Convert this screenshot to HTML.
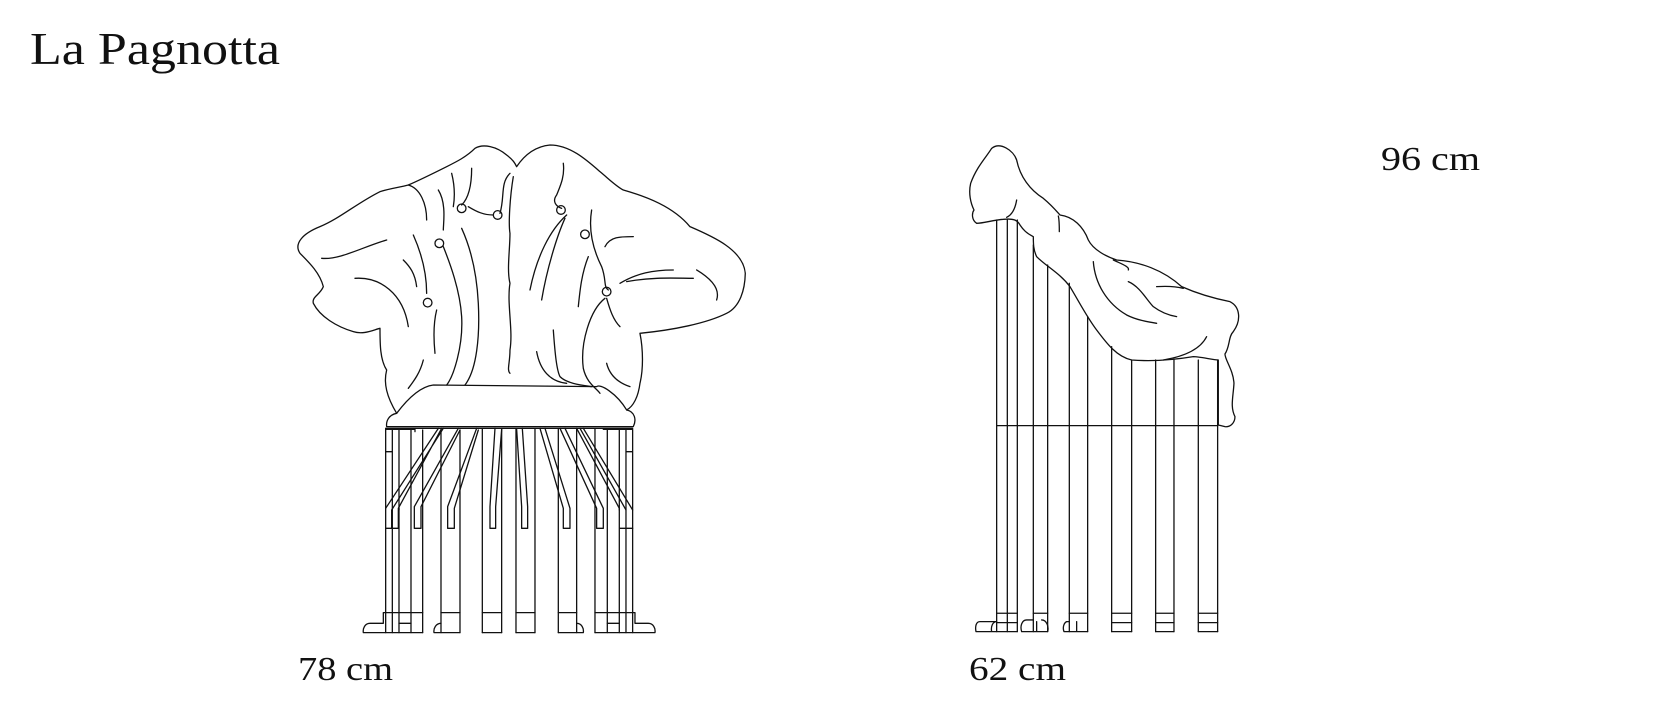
<!DOCTYPE html>
<html><head><meta charset="utf-8"><style>
html,body{margin:0;padding:0;background:#fff;width:1670px;height:711px;overflow:hidden}
svg{display:block}
text{font-family:"Liberation Serif",serif;fill:#111}
.s{fill:none;stroke:#111;stroke-width:1.3;vector-effect:non-scaling-stroke;stroke-linecap:round;stroke-linejoin:round}
</style></head><body>
<svg width="1670" height="711" viewBox="0 0 1670 711" xmlns="http://www.w3.org/2000/svg">
<text x="30" y="64" font-size="46" textLength="250" lengthAdjust="spacingAndGlyphs">La Pagnotta</text>
<text x="1381" y="170" font-size="34" textLength="99" lengthAdjust="spacingAndGlyphs">96 cm</text>
<text x="298" y="680" font-size="34" textLength="95" lengthAdjust="spacingAndGlyphs">78 cm</text>
<text x="969" y="680" font-size="34" textLength="97" lengthAdjust="spacingAndGlyphs">62 cm</text>

<!-- FRONT CHAIR upholstery -->
<g transform="translate(280,130) scale(0.3333)">
<path class="s" d="M320,890 L1060,890 C1070,870 1065,845 1040,840 C1010,790 960,760 950,770 L460,765 C420,770 380,810 350,850 C325,855 318,875 320,890 Z"/>
<path class="s" d="M350,850 C320,800 310,760 320,720 C300,690 300,640 300,595 C280,600 250,615 220,605 C170,590 120,560 100,520 C95,500 120,495 130,470 C120,430 90,400 60,370 C40,340 70,310 120,290 C180,265 230,220 300,185 C330,175 360,172 385,165 C420,150 460,130 500,110 C530,95 560,80 585,55 C610,40 650,50 680,75 C700,90 705,100 710,110 C730,80 760,50 810,45 C870,45 920,90 960,125 C990,150 1010,170 1030,180 C1100,200 1180,230 1230,290 C1300,320 1390,360 1396,430 C1395,480 1380,530 1340,550 C1280,580 1180,600 1080,610 C1090,660 1090,720 1080,760 C1075,800 1060,830 1040,840"/>
<path class="s" d="M385,165 C420,175 440,220 440,270 M475,180 C500,220 490,280 490,300 M515,130 C525,170 525,200 520,230 M575,115 C575,150 570,200 545,225 M565,230 C590,245 610,255 640,255 M690,130 C660,160 675,200 660,250 M700,140 C690,200 685,280 690,310 C690,360 680,420 690,460 C680,520 700,600 690,660 C690,700 680,720 690,730"/>
<path class="s" d="M490,350 C510,400 540,480 545,560 C550,650 520,740 500,765 M545,295 C570,350 590,420 595,520 C600,620 590,720 555,765 M400,315 C420,360 440,420 440,490 M470,540 C460,580 460,620 465,670 M125,385 C180,390 250,350 320,330 M225,445 C300,440 370,490 385,590 M370,390 C390,410 405,430 410,470 M430,690 C420,730 400,755 385,775"/>
<path class="s" d="M850,100 C855,140 840,170 830,195 C815,215 830,230 845,235 M860,255 C810,300 770,380 750,480 M855,265 C830,320 800,420 785,510 M935,240 C925,300 940,360 965,410 C980,450 970,470 985,480 M925,380 C905,430 900,480 895,530 M975,350 C990,320 1020,320 1060,320 M1250,420 C1300,450 1320,480 1310,510 M1040,455 C1120,440 1190,445 1240,445 M1020,460 C1070,430 1120,420 1180,420 M975,505 C930,540 900,640 910,715 C920,760 950,775 960,790 M980,505 C990,540 1000,570 1020,590 M820,600 C825,670 830,720 840,740 C860,760 900,765 935,770 M770,665 C780,720 810,755 860,760 M980,700 C990,740 1020,760 1050,770"/>
<circle class="s" cx="545" cy="235" r="13"/><circle class="s" cx="653" cy="255" r="13"/>
<circle class="s" cx="478" cy="340" r="13"/><circle class="s" cx="843" cy="240" r="13"/>
<circle class="s" cx="915" cy="313" r="13"/><circle class="s" cx="443" cy="518" r="13"/>
<circle class="s" cx="980" cy="485" r="13"/>
</g>

<!-- FRONT legs -->
<g transform="translate(350,410) scale(0.3333)">
<path class="s" d="M107,55 L848,55 M107,55 L107,668 M127,60 L127,300 M147,60 L147,300 M107,125 L127,125 M183,60 L183,668 M218,60 L218,668 M273,60 L273,668 M330,60 L330,668 M397,55 L397,668 M455,55 L455,668 M498,55 L498,668 M555,55 L555,668 M625,55 L625,668 M680,55 L680,668 M735,55 L735,668 M772,60 L772,668 M808,60 L808,300 M828,60 L828,300 M848,55 L848,668 M828,125 L848,125 M107,58 L195,58 L195,65 M760,58 L848,58"/>
<path class="s" d="M265,55 L107,295 M280,55 L125,300 L125,355 M127,300 L127,668 M147,295 L147,668 M107,355 L147,355 M275,55 L145,295 L145,355 M325,55 L193,290 L193,355 L213,355 L213,290 L330,60 M380,55 L293,290 L293,355 L313,355 L313,295 L385,60 M435,55 L420,290 L420,355 L437,355 L437,290 L455,58 M500,58 L515,290 L515,355 L533,355 L533,290 L517,55"/>
<path class="s" d="M570,55 L640,295 L640,355 L660,355 L660,295 L585,55 M630,55 L740,295 L740,355 L760,355 L760,295 L645,55 M680,55 L808,295 L808,668 M690,55 L828,300 L828,668 M808,355 L848,355 M700,55 L848,300"/>
<path class="s" d="M100,608 L218,608 M100,608 L100,640 L60,640 C45,640 38,655 40,668 L218,668 M147,640 L183,640 M273,608 L330,608 M273,640 C258,640 250,655 252,668 L330,668 M397,608 L455,608 M498,608 L555,608 M625,608 L680,608 M680,640 C695,640 702,655 700,668 M735,608 L855,608 L855,640 L895,640 C910,640 917,655 915,668 L735,668 M772,640 L808,640 M397,668 L455,668 M498,668 L555,668 M625,668 L700,668"/>
</g>

<!-- SIDE CHAIR -->
<g transform="translate(900,130) scale(0.3333)">
<path class="s" d="M290,270 L290,1505 M322,270 L322,1505 M352,270 L352,1505 M400,345 L400,1505 M443,405 L443,1505 M508,460 L508,1505 M563,560 L563,1505 M635,650 L635,1505 M695,690 L695,1505 M767,690 L767,1505 M822,690 L822,1505 M895,690 L895,1505 M953,690 L953,1505"/>
<path class="s" d="M290,887 L953,887 M290,1450 L352,1450 M290,1478 L352,1478 M400,1450 L443,1450 M508,1450 L563,1450 M635,1450 L695,1450 M635,1478 L695,1478 M767,1450 L822,1450 M767,1478 L822,1478 M895,1450 L953,1450 M895,1478 L953,1478 M635,1505 L695,1505 M767,1505 L822,1505 M895,1505 L953,1505"/>
<path class="s" d="M290,1475 L240,1475 C228,1475 225,1490 228,1505 L352,1505 M275,1505 C272,1490 278,1475 290,1475 M400,1470 L380,1470 C365,1470 360,1490 365,1505 L443,1505 C447,1490 440,1470 425,1470 M410,1475 L410,1505 M508,1475 L500,1475 C490,1480 488,1495 492,1505 L563,1505 M530,1475 L530,1505"/>
<path class="s" fill="#fff" d="M230,280 C215,270 215,250 222,240 C212,220 205,190 212,160 C230,110 260,80 275,55 C300,35 340,60 350,90 C360,140 390,180 430,205 C460,230 475,250 480,255 C520,260 550,290 565,330 C580,360 620,380 650,390 C720,395 790,420 845,470 C890,490 940,505 990,515 C1020,530 1025,570 1000,605 C985,620 990,650 975,672 C975,690 1000,720 1002,760 C1000,800 990,830 1005,860 C1005,880 990,892 975,890 L955,885 L955,690 C940,690 900,680 880,680 C820,690 760,695 695,690 C650,680 620,640 590,600 C560,560 540,520 510,470 C480,430 440,410 410,380 C400,360 400,340 400,320 C380,310 370,300 360,285 C352,270 340,265 310,268 C280,270 250,280 230,280 Z"/>
<path class="s" d="M350,210 C345,240 335,255 320,262 M475,258 C478,270 478,285 478,305 M580,395 C585,460 620,520 680,555 C710,570 740,575 770,580 M685,455 C720,470 740,510 760,530 C780,545 800,555 830,560 M640,390 C660,400 690,410 685,420 M770,470 C800,468 830,470 850,475 M920,620 C900,660 850,680 790,690"/>
</g>
</svg>
</body></html>
